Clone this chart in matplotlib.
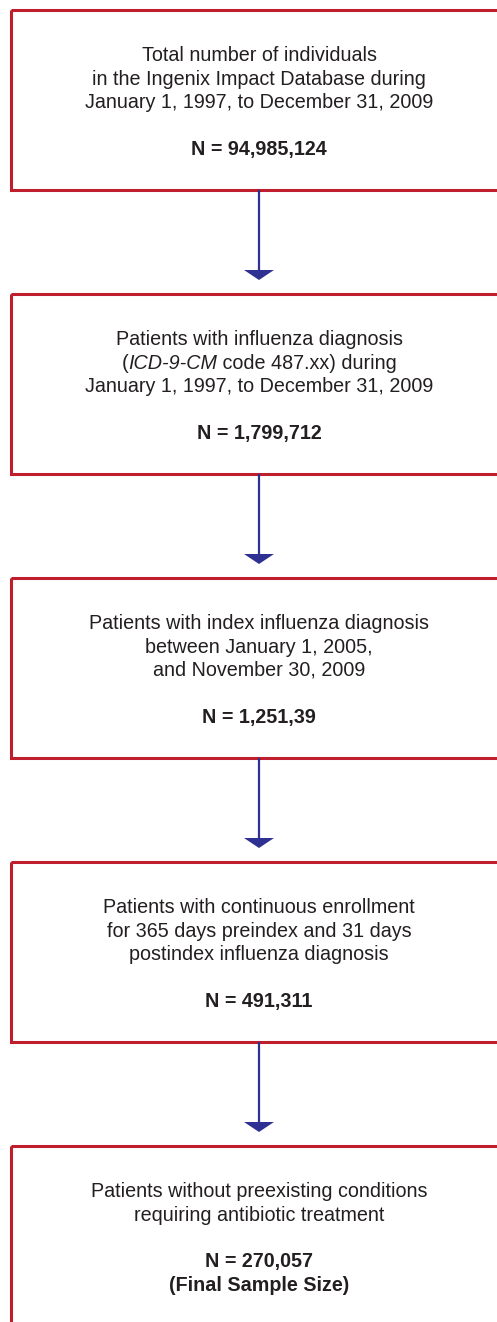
import matplotlib
matplotlib.use('Agg')
import matplotlib.pyplot as plt
from matplotlib.patches import Rectangle, Polygon

# box texts, *...* marks italic pieces
step_lines = [
    ['Total number of individuals',
     'in the Ingenix Impact Database during',
     'January 1, 1997, to December 31, 2009'],
    ['Patients with influenza diagnosis',
     '(*ICD-9-CM* code 487.xx) during',
     'January 1, 1997, to December 31, 2009'],
    ['Patients with index influenza diagnosis',
     'between January 1, 2005,',
     'and November 30, 2009'],
    ['Patients with continuous enrollment',
     'for 365 days preindex and 31 days',
     'postindex influenza diagnosis'],
    ['Patients without preexisting conditions',
     'requiring antibiotic treatment'],
]
step_counts = ['N = 94,985,124', 'N = 1,799,712', 'N = 1,251,39',
               'N = 491,311', 'N = 270,057']
step_notes = ['', '', '', '', '(Final Sample Size)']

W, H = 497, 1322
red = '#BE1E2D'
navy = '#2E3192'
txt = '#231F20'
font = 'Liberation Sans'
fs = 14.2

fig = plt.figure(figsize=(W / 100, H / 100), dpi=100)
ax = fig.add_axes([0, 0, 1, 1])
ax.set_xlim(0, W)
ax.set_ylim(H, 0)
ax.axis('off')
renderer = fig.canvas.get_renderer()

cx = 259
box_left = 11
box_w = 2 * (cx - box_left)
box_h = 180
pitch = 284
first_top = 10
lh = 23.3


def centered_line(y, line, weight='normal'):
    parts = line.split('*')
    objs = []
    for i, p in enumerate(parts):
        if p == '':
            continue
        style = 'italic' if i % 2 == 1 else 'normal'
        t = ax.text(0, y, p, fontsize=fs, family=font, style=style,
                    weight=weight, color=txt, ha='left', va='baseline')
        objs.append(t)
    widths = [o.get_window_extent(renderer).width for o in objs]
    x = cx - sum(widths) / 2
    for o, w in zip(objs, widths):
        o.set_x(x)
        x += w


for i in range(len(step_lines)):
    top = first_top + i * pitch
    ax.add_patch(Rectangle((box_left, top), box_w, box_h, fill=False,
                           edgecolor=red, lw=2.2, clip_on=True))
    slots = [(l, 'normal') for l in step_lines[i]] + [('', 'normal')]
    slots.append((step_counts[i], 'bold'))
    if step_notes[i]:
        slots.append((step_notes[i], 'bold'))
    n = len(slots)
    mid = top + box_h / 2 + 8
    for k, (line, wt) in enumerate(slots):
        if line:
            centered_line(mid + (k - (n - 1) / 2) * lh, line, wt)

    # arrow to the next box
    if i < len(step_lines) - 1:
        y0 = top + box_h
        tip = first_top + (i + 1) * pitch - 14
        ax.plot([cx, cx], [y0, tip - 9], color=navy, lw=1.6,
                solid_capstyle='butt')
        ax.add_patch(Polygon([(cx - 15, tip - 10), (cx + 15, tip - 10), (cx, tip)],
                             closed=True, facecolor=navy, edgecolor='none'))

fig.savefig('out.png', dpi=100)
